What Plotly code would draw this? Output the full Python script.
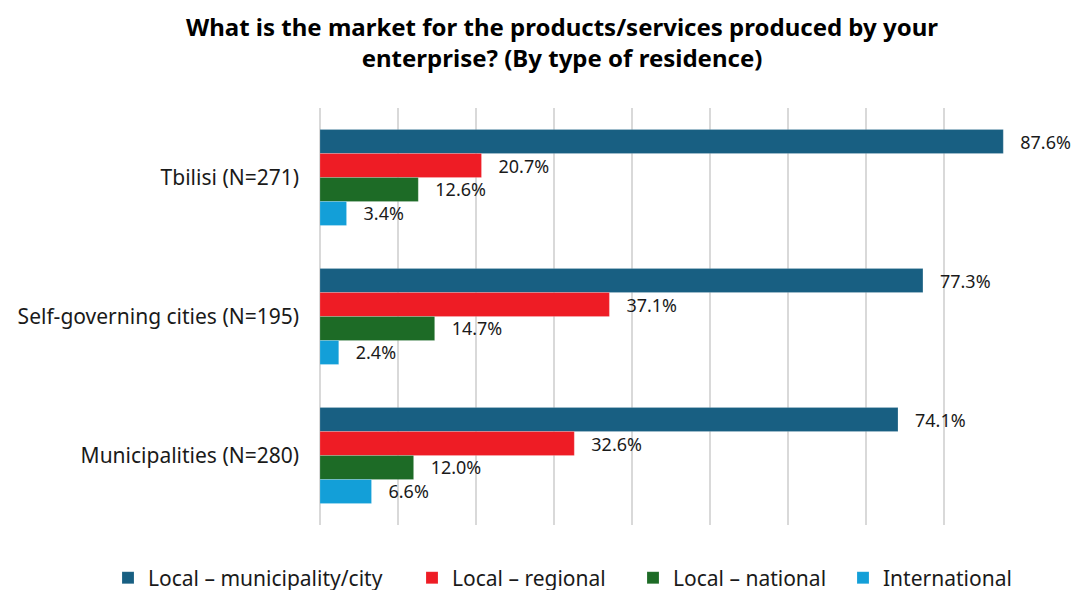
import plotly.graph_objects as go

# Survey results by type of residence (percent of enterprises)
categories = ["Tbilisi (N=271)", "Self-governing cities (N=195)", "Municipalities (N=280)"]
series_names = ["Local – municipality/city", "Local – regional", "Local – national", "International"]
local_city = [87.6, 77.3, 74.1]
local_regional = [20.7, 37.1, 32.6]
local_national = [12.6, 14.7, 12.0]
international = [3.4, 2.4, 6.6]
series_values = [local_city, local_regional, local_national, international]
colors = ["#185F82", "#EE1C25", "#1D6B26", "#139FD8"]

# one single-entry legend per series, laid out in a row along the bottom
legend_ids = ["legend", "legend2", "legend3", "legend4"]
legend_x = [108, 412, 633, 843]

fig = go.Figure()
for name, vals, col, lid in zip(series_names, series_values, colors, legend_ids):
    fig.add_trace(go.Bar(
        y=categories, x=vals, name=name, orientation="h", legend=lid,
        marker=dict(color=col, line=dict(color="rgba(255,255,255,0.35)", width=0.5)),
        text=[f"\u00a0\u00a0\u00a0{v:.1f}%" for v in vals],
        textposition="outside", cliponaxis=False,
        textfont=dict(size=18, color="#1a1a1a", family="Noto Sans"),
    ))

W, H = 1085, 590
legend_layout = {
    lid: dict(orientation="h", xref="container", yref="container",
              x=px / W, xanchor="left", y=1 - 578 / H, yanchor="middle",
              font=dict(size=21, color="#1a1a1a"), itemwidth=30,
              bgcolor="rgba(0,0,0,0)")
    for lid, px in zip(legend_ids, legend_x)
}

fig.update_layout(
    width=W, height=H,
    margin=dict(l=320, r=63, t=108, b=65, autoexpand=False),
    paper_bgcolor="white", plot_bgcolor="white",
    font=dict(family="Noto Sans", color="#1a1a1a"),
    barmode="group", bargap=0.31, bargroupgap=0,
    title=dict(
        text="<b>What is the market for the products/services produced by your<br>enterprise? (By type of residence)</b>",
        x=0.518, xanchor="center", y=0.939, yanchor="middle",
        font=dict(size=24, family="Noto Sans", color="#000000"),
    ),
    xaxis=dict(range=[0, 90], dtick=10, showticklabels=False, showgrid=True,
               gridcolor="#D9D9D9", gridwidth=2, zeroline=True,
               zerolinecolor="#D9D9D9", zerolinewidth=2, fixedrange=True),
    yaxis=dict(autorange="reversed", showgrid=False, ticks="", ticklen=0,
               tickfont=dict(size=21, color="#1a1a1a"), ticklabelstandoff=20),
    showlegend=True,
    **legend_layout,
)

fig.write_html("out.html")
